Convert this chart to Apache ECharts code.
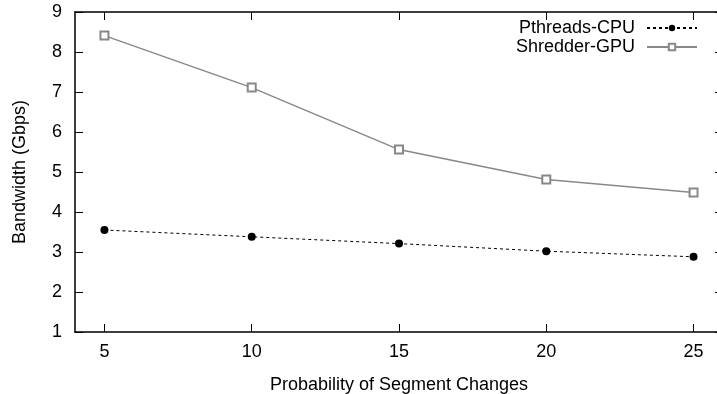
<!DOCTYPE html>
<html>
<head>
<meta charset="utf-8">
<script src="https://cdn.jsdelivr.net/npm/echarts@6/dist/echarts.min.js"></script>
<style>
  html, body { margin: 0; padding: 0; background: #fff; overflow: hidden; }
  #chart { width: 717px; height: 394px; }
</style>
</head>
<body>
<div id="chart"></div>
<script>
var probabilities = [5, 10, 15, 20, 25];
var pthreadsCpu = [3.55, 3.38, 3.21, 3.02, 2.88];
var shredderGpu = [8.41, 7.11, 5.56, 4.81, 4.49];
var xTicks = [5, 10, 15, 20, 25];

var font = '"Liberation Sans", Arial, sans-serif';

function pairs(ys) {
    return probabilities.map(function (x, i) { return [x, ys[i]]; });
}

var chart = echarts.init(document.getElementById('chart'));

var axisLine = { show: true, lineStyle: { color: '#000', width: 1.5 } };

chart.setOption({
    animation: false,
    textStyle: { fontFamily: font },
    grid: { left: 75, top: 12, right: -6, bottom: 62, outerBoundsMode: 'none', containLabel: false },
    legend: {
        orient: 'vertical',
        right: 14,
        top: 14,
        align: 'right',
        itemWidth: 50,
        itemHeight: 8,
        itemGap: 1,
        textStyle: { fontFamily: font, fontSize: 18, color: '#000', padding: [0, 7, 0, 0] },
        data: ['Pthreads-CPU', 'Shredder-GPU']
    },
    xAxis: [
        {
            type: 'value',
            min: 4,
            max: 26,
            name: 'Probability of Segment Changes',
            nameLocation: 'middle',
            nameGap: 44,
            nameTextStyle: { fontFamily: font, fontSize: 18, color: '#000' },
            axisLine: axisLine,
            splitLine: { show: false },
            axisTick: { inside: true, length: 8, customValues: xTicks, lineStyle: { color: '#000' } },
            axisLabel: { customValues: xTicks, margin: 11, fontFamily: font, fontSize: 18, color: '#000' }
        },
        {
            type: 'value',
            position: 'top',
            min: 4,
            max: 26,
            axisLine: axisLine,
            splitLine: { show: false },
            axisTick: { inside: true, length: 8, customValues: xTicks, lineStyle: { color: '#000' } },
            axisLabel: { show: false }
        }
    ],
    yAxis: [
        {
            type: 'value',
            min: 1,
            max: 9,
            interval: 1,
            name: 'Bandwidth (Gbps)',
            nameLocation: 'middle',
            nameGap: 46,
            nameTextStyle: { fontFamily: font, fontSize: 18, color: '#000' },
            axisLine: axisLine,
            splitLine: { show: false },
            axisTick: { inside: true, length: 8, lineStyle: { color: '#000' } },
            axisLabel: { margin: 13, fontFamily: font, fontSize: 18, color: '#000' }
        },
        {
            type: 'value',
            position: 'right',
            min: 1,
            max: 9,
            interval: 1,
            axisLine: { show: false },
            splitLine: { show: false },
            axisTick: { show: true, inside: true, length: 8, lineStyle: { color: '#000' } },
            axisLabel: { show: false }
        }
    ],
    series: [
        {
            name: 'Pthreads-CPU',
            type: 'line',
            data: pairs(pthreadsCpu),
            symbol: 'circle',
            symbolSize: 8,
            itemStyle: { color: '#000' },
            lineStyle: { color: '#000', width: 1, type: [3, 3] }
        },
        {
            name: 'Shredder-GPU',
            type: 'line',
            data: pairs(shredderGpu),
            symbol: 'emptyRect',
            symbolSize: 8,
            itemStyle: { color: '#888', borderColor: '#888', borderWidth: 1.5 },
            lineStyle: { color: '#888', width: 1.5 }
        }
    ]
});
</script>
</body>
</html>
